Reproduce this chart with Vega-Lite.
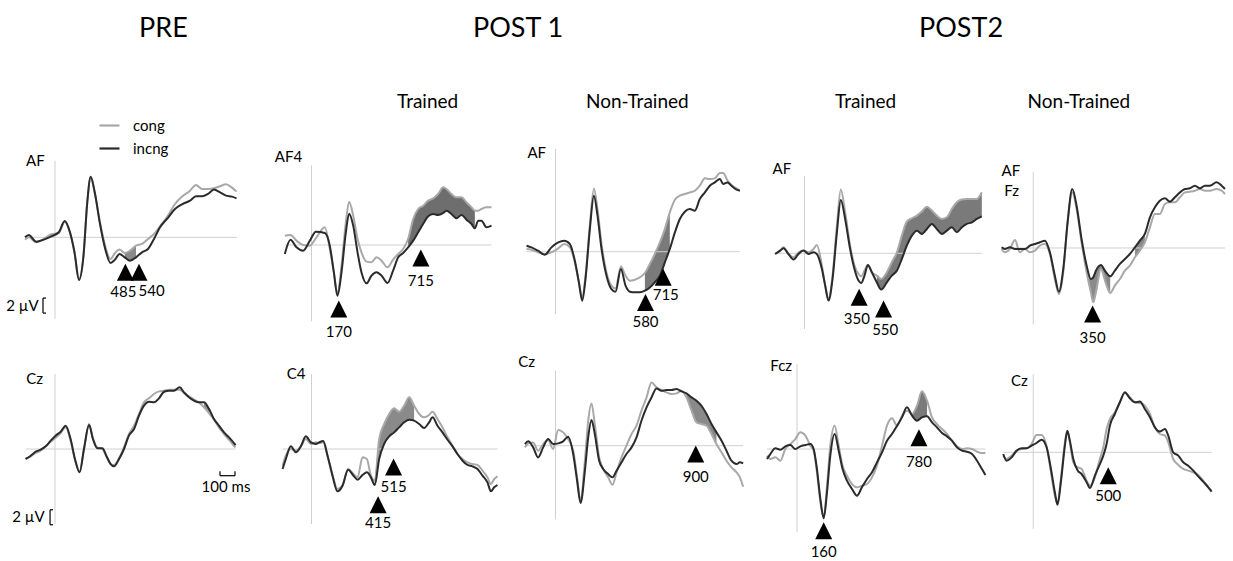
{
"$schema":"https://vega.github.io/schema/vega-lite/v6.json",
"autosize":{"type":"pad"},
"padding":{"left":4,"top":15,"right":5,"bottom":0},
"background":"white",
"config":{"view":{"stroke":null},"font":"Lato","title":{"font":"Lato","fontWeight":"normal","color":"#000"},"axis":{"labels":false,"domain":false,"grid":false,"ticks":true,"tickColor":"#cfcfcf","tickSize":3,"tickWidth":1,"minExtent":0,"maxExtent":0,"labelPadding":0},"text":{"font":"Lato","fontSize":15,"color":"#000"}},
"datasets":{
"w_pre1":[{"t":-200,"cong":-0.31,"incng":0},{"t":-175,"cong":0,"incng":0.31},{"t":-125,"cong":-0.67,"incng":-0.58},{"t":-75,"cong":-0.22,"incng":-0.31},{"t":-25,"cong":0.4,"incng":0.13},{"t":25,"cong":0.58,"incng":0.67},{"t":65,"cong":2.09,"incng":2.18},{"t":100,"cong":0.58,"incng":0.67},{"t":130,"cong":-2,"incng":-2},{"t":160,"cong":-5.56,"incng":-5.69},{"t":190,"cong":-2.44,"incng":-2.44},{"t":215,"cong":4.58,"incng":4.67},{"t":238,"cong":8,"incng":8.09},{"t":265,"cong":5.91,"incng":6},{"t":300,"cong":2,"incng":1.78},{"t":335,"cong":-1.2,"incng":-1.56},{"t":370,"cong":-2.89,"incng":-3.42},{"t":400,"cong":-2.09,"incng":-2.98},{"t":430,"cong":-1.64,"incng":-2.22},{"t":465,"cong":-2.09,"incng":-2.67,"s":1},{"t":500,"cong":-1.78,"incng":-3.11,"s":1},{"t":540,"cong":-1.11,"incng":-2.67,"s":1},{"t":580,"cong":-0.89,"incng":-2},{"t":620,"cong":-0.22,"incng":-1.56},{"t":660,"cong":0.44,"incng":-0.22},{"t":700,"cong":1.47,"incng":1.33},{"t":750,"cong":2.8,"incng":2.53},{"t":800,"cong":4.44,"incng":3.78},{"t":850,"cong":5.47,"incng":4.44},{"t":900,"cong":6.22,"incng":4.89},{"t":940,"cong":6.98,"incng":5.47},{"t":980,"cong":6.44,"incng":5.47},{"t":1020,"cong":6.44,"incng":5.78},{"t":1060,"cong":6.53,"incng":6.36},{"t":1100,"cong":6.8,"incng":6},{"t":1140,"cong":7.07,"incng":5.56},{"t":1180,"cong":6.62,"incng":5.42},{"t":1210,"cong":6.09,"incng":5.2}],
"w_p1t1":[{"t":-178,"cong":1.24,"incng":-1.2},{"t":-140,"cong":1.33,"incng":0.71},{"t":-100,"cong":0.58,"incng":-0.31},{"t":-56,"cong":0,"incng":-0.76},{"t":-11,"cong":-0.09,"incng":0.58},{"t":29,"cong":0.89,"incng":1.78},{"t":89,"cong":2.36,"incng":1.6},{"t":122,"cong":-0.53,"incng":-0.09},{"t":149,"cong":-3.64,"incng":-3.64},{"t":173,"cong":-6.53,"incng":-6.76},{"t":200,"cong":-2.76,"incng":-3.64},{"t":229,"cong":3.02,"incng":1.69},{"t":251,"cong":5.78,"incng":4.18},{"t":278,"cong":3.91,"incng":2.58},{"t":307,"cong":0.8,"incng":-0.98},{"t":333,"cong":-0.98,"incng":-3.64},{"t":367,"cong":-2.22,"incng":-5.11},{"t":400,"cong":-2.31,"incng":-4.09},{"t":433,"cong":-1.64,"incng":-3.64},{"t":467,"cong":-2.09,"incng":-4.09},{"t":507,"cong":-2.98,"incng":-5.07},{"t":544,"cong":-1.96,"incng":-3.42},{"t":578,"cong":-1.2,"incng":-1.64},{"t":611,"cong":-0.53,"incng":-1.07},{"t":644,"cong":0.8,"incng":-0.31,"s":1},{"t":678,"cong":3.47,"incng":0.58,"s":1},{"t":711,"cong":4.8,"incng":1.69,"s":1},{"t":744,"cong":5.24,"incng":2.8,"s":1},{"t":778,"cong":5.91,"incng":3.82,"s":1},{"t":811,"cong":6.22,"incng":4.13,"s":1},{"t":844,"cong":6.8,"incng":4,"s":1},{"t":878,"cong":7.69,"incng":4.27,"s":1},{"t":900,"cong":7.47,"incng":4.58,"s":1},{"t":933,"cong":6.8,"incng":4.13,"s":1},{"t":967,"cong":6.36,"incng":3.56,"s":1},{"t":1000,"cong":6.36,"incng":4,"s":1},{"t":1033,"cong":5.69,"incng":3.38,"s":1},{"t":1067,"cong":5.02,"incng":2.8,"s":1},{"t":1089,"cong":4.58,"incng":2.22,"s":1},{"t":1111,"cong":4.58,"incng":3.24},{"t":1133,"cong":4.8,"incng":3.24},{"t":1167,"cong":5.02,"incng":2.36},{"t":1200,"cong":5.02,"incng":2.58}],
"w_p1n1":[{"t":-193,"cong":0.36,"incng":0.8},{"t":-160,"cong":0.27,"incng":0.58},{"t":-116,"cong":-0.09,"incng":0.13},{"t":-71,"cong":-0.31,"incng":-0.4},{"t":-27,"cong":-0.09,"incng":0.58},{"t":18,"cong":0.44,"incng":1.24},{"t":58,"cong":1.02,"incng":1.47},{"t":96,"cong":0.58,"incng":1.02},{"t":129,"cong":-1.42,"incng":-1.2},{"t":156,"cong":-4.09,"incng":-4.09},{"t":178,"cong":-6.09,"incng":-6.53},{"t":200,"cong":-3.2,"incng":-3.64},{"t":229,"cong":3.47,"incng":3.02},{"t":256,"cong":8.44,"incng":7.47},{"t":280,"cong":5.69,"incng":4.8},{"t":307,"cong":1.02,"incng":0.36},{"t":340,"cong":-2.76,"incng":-3.2},{"t":373,"cong":-4.53,"incng":-4.98},{"t":400,"cong":-4.89,"incng":-5.33},{"t":436,"cong":-1.96,"incng":-2.31},{"t":467,"cong":-3.2,"incng":-4.53},{"t":496,"cong":-3.87,"incng":-5.33},{"t":529,"cong":-3.73,"incng":-5.42},{"t":562,"cong":-3.42,"incng":-5.42},{"t":596,"cong":-2.84,"incng":-5.2,"s":1},{"t":629,"cong":-1.64,"incng":-4.76,"s":1},{"t":662,"cong":-0.31,"incng":-4.09,"s":1},{"t":696,"cong":1.24,"incng":-3.2,"s":1},{"t":729,"cong":3.02,"incng":-1.42,"s":1},{"t":762,"cong":5.24,"incng":0.36,"s":1},{"t":796,"cong":6.93,"incng":2.58},{"t":829,"cong":7.47,"incng":4.36},{"t":862,"cong":7.69,"incng":5.33},{"t":896,"cong":7.91,"incng":5.69},{"t":929,"cong":8.13,"incng":5.47},{"t":962,"cong":8.8,"incng":7.02},{"t":996,"cong":9.78,"incng":7.91},{"t":1029,"cong":9.69,"incng":8.8},{"t":1062,"cong":9.78,"incng":9.24},{"t":1096,"cong":10.49,"incng":9.69},{"t":1118,"cong":10.49,"incng":9.02},{"t":1147,"cong":9.47,"incng":9.24},{"t":1173,"cong":8.89,"incng":8.8},{"t":1207,"cong":8.44,"incng":8.27},{"t":1229,"cong":8.13,"incng":8.13}],
"w_p2t1":[{"t":-196,"cong":-0.09,"incng":-0.09},{"t":-162,"cong":0.36,"incng":0.36},{"t":-140,"cong":0.8,"incng":0.67},{"t":-107,"cong":-0.09,"incng":-0.09},{"t":-73,"cong":-0.53,"incng":-0.84},{"t":-40,"cong":0.13,"incng":-0.09},{"t":-7,"cong":0.36,"incng":0.36},{"t":27,"cong":0.13,"incng":-0.09},{"t":60,"cong":0.58,"incng":0.13},{"t":82,"cong":1.11,"incng":-0.09},{"t":116,"cong":-1.64,"incng":-2.09},{"t":138,"cong":-4.31,"incng":-4.31},{"t":160,"cong":-6.09,"incng":-6.31},{"t":187,"cong":-2.98,"incng":-3.42},{"t":216,"cong":3.69,"incng":2.8},{"t":242,"cong":8.49,"incng":7.11},{"t":271,"cong":5.47,"incng":4.58},{"t":304,"cong":1.02,"incng":0.58},{"t":333,"cong":-1.64,"incng":-2.09},{"t":360,"cong":-2.76,"incng":-3.64},{"t":378,"cong":-3.07,"incng":-3.96},{"t":400,"cong":-2.31,"incng":-2.98},{"t":422,"cong":-1.56,"incng":-1.56},{"t":449,"cong":-2.53,"incng":-2.53},{"t":482,"cong":-2.98,"incng":-3.87,"s":1},{"t":511,"cong":-3.42,"incng":-4.84,"s":1},{"t":549,"cong":-2.53,"incng":-3.87,"s":1},{"t":582,"cong":-1.2,"incng":-2.98,"s":1},{"t":616,"cong":0.13,"incng":-2.31,"s":1},{"t":649,"cong":2.36,"incng":-0.76,"s":1},{"t":682,"cong":4.22,"incng":1.02,"s":1},{"t":716,"cong":4.67,"incng":2.36,"s":1},{"t":749,"cong":5.02,"incng":3.02,"s":1},{"t":782,"cong":5.56,"incng":2.58,"s":1},{"t":816,"cong":6.22,"incng":3.24,"s":1},{"t":849,"cong":5.69,"incng":3.91,"s":1},{"t":882,"cong":5.02,"incng":3.24,"s":1},{"t":916,"cong":4.58,"incng":2.58,"s":1},{"t":949,"cong":4.8,"incng":3.02,"s":1},{"t":982,"cong":5.91,"incng":3.47,"s":1},{"t":1016,"cong":6.8,"incng":2.8,"s":1},{"t":1049,"cong":7.16,"incng":3.47,"s":1},{"t":1082,"cong":7.24,"incng":3.91,"s":1},{"t":1116,"cong":7.24,"incng":4.13,"s":1},{"t":1149,"cong":7.24,"incng":4.58,"s":1},{"t":1182,"cong":8.13,"incng":4.93,"s":1}],
"w_p2n1":[{"t":-211,"cong":-0.13,"incng":0.09},{"t":-189,"cong":-0.58,"incng":-0.13},{"t":-156,"cong":-0.13,"incng":0.09},{"t":-122,"cong":1.07,"incng":-0.13},{"t":-89,"cong":-0.58,"incng":-0.13},{"t":-56,"cong":-0.13,"incng":-0.13},{"t":-22,"cong":-0.58,"incng":0.31},{"t":11,"cong":-0.36,"incng":0.53},{"t":44,"cong":0.31,"incng":0.76},{"t":78,"cong":0.53,"incng":0.98},{"t":111,"cong":-0.8,"incng":-0.58},{"t":144,"cong":-4.13,"incng":-3.69},{"t":171,"cong":-6.13,"incng":-5.82},{"t":200,"cong":-3.24,"incng":-2.8},{"t":229,"cong":3.42,"incng":3.42},{"t":260,"cong":7.42,"incng":7.87},{"t":289,"cong":5.2,"incng":5.64},{"t":322,"cong":0.76,"incng":1.2},{"t":356,"cong":-3.24,"incng":-2.36,"s":1},{"t":384,"cong":-5.91,"incng":-4.13,"s":1},{"t":400,"cong":-7.24,"incng":-3.91,"s":1},{"t":418,"cong":-5.91,"incng":-3.02,"s":1},{"t":451,"cong":-2.8,"incng":-2.27,"s":1},{"t":482,"cong":-4.58,"incng":-3.16,"s":1},{"t":513,"cong":-6,"incng":-3.78,"s":1},{"t":544,"cong":-5.02,"incng":-3.02},{"t":578,"cong":-4.13,"incng":-2.13},{"t":611,"cong":-3.02,"incng":-1.47},{"t":644,"cong":-2.36,"incng":-0.8},{"t":678,"cong":-1.24,"incng":0.09,"s":2},{"t":711,"cong":-0.36,"incng":0.98,"s":2},{"t":744,"cong":0.76,"incng":1.87,"s":2},{"t":778,"cong":2.76,"incng":4.09},{"t":811,"cong":4.53,"incng":5.42},{"t":844,"cong":4.53,"incng":6.31},{"t":878,"cong":5.87,"incng":6.62},{"t":911,"cong":6.09,"incng":6.18},{"t":944,"cong":6.09,"incng":6.76},{"t":978,"cong":6.76,"incng":7.42},{"t":1011,"cong":7.42,"incng":7.87},{"t":1044,"cong":7.51,"incng":7.96},{"t":1078,"cong":7.64,"incng":8.31},{"t":1111,"cong":7.87,"incng":7.96},{"t":1144,"cong":7.64,"incng":8.31},{"t":1178,"cong":7.64,"incng":8.31},{"t":1222,"cong":7.87,"incng":8.76},{"t":1256,"cong":7.64,"incng":8.31},{"t":1278,"cong":7.2,"incng":7.87}],
"w_pre2":[{"t":-196,"cong":-1.33,"incng":-1.33},{"t":-162,"cong":-0.98,"incng":-0.89},{"t":-129,"cong":-0.53,"incng":-0.36},{"t":-96,"cong":-0.22,"incng":-0.09},{"t":-62,"cong":0.36,"incng":0.36},{"t":-29,"cong":0.98,"incng":1.11},{"t":4,"cong":1.51,"incng":1.78},{"t":38,"cong":2.13,"incng":2.31},{"t":71,"cong":2.89,"incng":3.11},{"t":104,"cong":1.11,"incng":1.33},{"t":133,"cong":-1.42,"incng":-1.33},{"t":164,"cong":-3.02,"incng":-3.11},{"t":193,"cong":-0.09,"incng":0},{"t":227,"cong":3.33,"incng":3.2},{"t":253,"cong":1.42,"incng":1.33},{"t":282,"cong":0.22,"incng":0.09},{"t":316,"cong":0,"incng":0.09},{"t":342,"cong":-0.98,"incng":-0.89},{"t":371,"cong":-2,"incng":-2},{"t":393,"cong":-2.13,"incng":-2.31},{"t":427,"cong":-1.24,"incng":-1.33},{"t":460,"cong":0.22,"incng":0},{"t":493,"cong":2,"incng":1.78},{"t":527,"cong":3.11,"incng":2.67},{"t":560,"cong":4.67,"incng":4.44},{"t":593,"cong":6.22,"incng":5.78},{"t":627,"cong":6.76,"incng":6.31},{"t":660,"cong":7.33,"incng":6.22},{"t":693,"cong":7.69,"incng":6.76},{"t":727,"cong":7.78,"incng":7.64},{"t":760,"cong":7.91,"incng":7.78},{"t":793,"cong":7.91,"incng":7.78},{"t":831,"cong":7.91,"incng":8.22},{"t":860,"cong":7.47,"incng":7.56},{"t":893,"cong":7.02,"incng":6.89},{"t":927,"cong":6.58,"incng":6.44},{"t":960,"cong":6.22,"incng":6.22},{"t":993,"cong":5.56,"incng":6.22,"s":1},{"t":1027,"cong":4.8,"incng":5.33,"s":1},{"t":1060,"cong":3.91,"incng":4},{"t":1093,"cong":2.89,"incng":3.11},{"t":1127,"cong":2,"incng":2.22},{"t":1160,"cong":1.24,"incng":1.56},{"t":1193,"cong":0.44,"incng":0.8},{"t":1204,"cong":0.22,"incng":0.53}],
"w_p1t2":[{"t":-193,"cong":-2.22,"incng":-2.67},{"t":-171,"cong":-0.89,"incng":-1.33},{"t":-138,"cong":0,"incng":0.36},{"t":-104,"cong":-0.22,"incng":-0.44},{"t":-71,"cong":0.36,"incng":0.36},{"t":-38,"cong":1.33,"incng":1.69},{"t":-4,"cong":0.67,"incng":0.89},{"t":29,"cong":0.89,"incng":0.67},{"t":51,"cong":0.8,"incng":0.89},{"t":78,"cong":0.89,"incng":1.07},{"t":107,"cong":-0.89,"incng":-0.89},{"t":140,"cong":-3.47,"incng":-3.56},{"t":173,"cong":-5.33,"incng":-5.64},{"t":207,"cong":-4.8,"incng":-4.89},{"t":244,"cong":-2.67,"incng":-2.76},{"t":280,"cong":-3.33,"incng":-3.56},{"t":307,"cong":-3.78,"incng":-4.09},{"t":340,"cong":-1.11,"incng":-3.47},{"t":369,"cong":-1.33,"incng":-3.11},{"t":396,"cong":-3.56,"incng":-3.78},{"t":422,"cong":-4.22,"incng":-4.8,"s":1},{"t":451,"cong":1.33,"incng":-1.33,"s":1},{"t":484,"cong":3.33,"incng":0.67,"s":1},{"t":518,"cong":4.67,"incng":1.69,"s":1},{"t":551,"cong":5.42,"incng":2.22,"s":1},{"t":584,"cong":4.98,"incng":2.89,"s":1},{"t":618,"cong":5.78,"incng":3.56,"s":1},{"t":651,"cong":6.89,"incng":3.91,"s":1},{"t":684,"cong":5.78,"incng":3.78,"s":1},{"t":718,"cong":4.67,"incng":3.33},{"t":751,"cong":4.22,"incng":2.8},{"t":784,"cong":4.53,"incng":3.56},{"t":807,"cong":4.98,"incng":4.22},{"t":840,"cong":4,"incng":3.11},{"t":873,"cong":2.89,"incng":2.22},{"t":907,"cong":1.56,"incng":1.24},{"t":940,"cong":0.44,"incng":0.36},{"t":973,"cong":-0.67,"incng":-0.67},{"t":1007,"cong":-1.33,"incng":-1.56},{"t":1040,"cong":-1.78,"incng":-2.13},{"t":1073,"cong":-2,"incng":-2.31},{"t":1107,"cong":-2.13,"incng":-2.67},{"t":1140,"cong":-2.89,"incng":-3.56},{"t":1173,"cong":-3.78,"incng":-4.44},{"t":1196,"cong":-4.67,"incng":-5.64},{"t":1218,"cong":-4,"incng":-5.11},{"t":1240,"cong":-3.64,"incng":-4.8}],
"w_p1n2":[{"t":-204,"cong":-0.22,"incng":0.22},{"t":-182,"cong":0.31,"incng":0.58},{"t":-149,"cong":0.44,"incng":-0.22},{"t":-116,"cong":-0.67,"incng":-1.56},{"t":-82,"cong":0.22,"incng":-0.22},{"t":-49,"cong":0.76,"incng":0.89},{"t":-16,"cong":-0.44,"incng":0.22},{"t":18,"cong":2.09,"incng":0.31},{"t":51,"cong":1.78,"incng":0.58},{"t":84,"cong":0.89,"incng":1.2},{"t":118,"cong":-0.67,"incng":-1.11},{"t":144,"cong":-4.22,"incng":-4.67},{"t":167,"cong":-7.33,"incng":-7.64},{"t":196,"cong":-2,"incng":-3.33},{"t":218,"cong":3.33,"incng":1.11},{"t":240,"cong":5.64,"incng":3.42},{"t":262,"cong":2.89,"incng":1.56},{"t":291,"cong":-1.56,"incng":-2},{"t":318,"cong":-3.11,"incng":-3.11},{"t":351,"cong":-4.22,"incng":-3.78},{"t":380,"cong":-5.2,"incng":-4.22},{"t":407,"cong":-3.56,"incng":-3.33},{"t":440,"cong":-1.56,"incng":-2.22},{"t":473,"cong":0,"incng":-1.11},{"t":507,"cong":1.56,"incng":-0.22},{"t":540,"cong":2.67,"incng":1.11},{"t":573,"cong":4.67,"incng":3.33},{"t":607,"cong":6.44,"incng":5.11},{"t":640,"cong":8.44,"incng":6.44},{"t":673,"cong":7.78,"incng":7.64},{"t":707,"cong":7.42,"incng":7.33},{"t":740,"cong":7.11,"incng":7.42},{"t":773,"cong":6.89,"incng":7.42},{"t":807,"cong":6.98,"incng":7.56},{"t":840,"cong":7.33,"incng":7.24},{"t":873,"cong":6.44,"incng":6.98,"s":1},{"t":907,"cong":4.67,"incng":6.44,"s":1},{"t":940,"cong":3.11,"incng":6,"s":1},{"t":973,"cong":2.89,"incng":5.33,"s":1},{"t":1007,"cong":2.67,"incng":4.22,"s":1},{"t":1040,"cong":1.56,"incng":2.89,"s":1},{"t":1073,"cong":0.22,"incng":1.78,"s":1},{"t":1107,"cong":-0.89,"incng":0.67},{"t":1140,"cong":-2,"incng":-0.67},{"t":1173,"cong":-2.89,"incng":-2},{"t":1207,"cong":-3.56,"incng":-2.44},{"t":1229,"cong":-4.22,"incng":-2.22},{"t":1251,"cong":-5.47,"incng":-2.36}],
"w_p2t2":[{"t":-200,"cong":-0.89,"incng":-1.33},{"t":-178,"cong":-1.33,"incng":-0.67},{"t":-144,"cong":-1.11,"incng":0.09},{"t":-111,"cong":-1.56,"incng":-0.09},{"t":-78,"cong":0,"incng":0.36},{"t":-44,"cong":0.67,"incng":0.53},{"t":-11,"cong":1.33,"incng":0},{"t":22,"cong":2.22,"incng":0.36},{"t":56,"cong":1.78,"incng":0.53},{"t":89,"cong":0.44,"incng":0.67},{"t":111,"cong":-0.22,"incng":0},{"t":133,"cong":-3.11,"incng":-2.67},{"t":156,"cong":-7.11,"incng":-6.67},{"t":178,"cong":-9.11,"incng":-9.24},{"t":200,"cong":-4.89,"incng":-5.78},{"t":222,"cong":0.44,"incng":-0.89},{"t":251,"cong":3.11,"incng":2},{"t":278,"cong":0.44,"incng":-0.22},{"t":304,"cong":-2.22,"incng":-2.67},{"t":333,"cong":-3.56,"incng":-4.22},{"t":367,"cong":-4.67,"incng":-5.33},{"t":400,"cong":-5.11,"incng":-6.22},{"t":433,"cong":-4.89,"incng":-5.11},{"t":467,"cong":-4.67,"incng":-4},{"t":500,"cong":-3.78,"incng":-3.11},{"t":533,"cong":-2.22,"incng":-1.78},{"t":567,"cong":0.44,"incng":-0.44},{"t":600,"cong":3.11,"incng":1.11},{"t":633,"cong":4.09,"incng":2},{"t":667,"cong":3.11,"incng":3.11},{"t":700,"cong":4.44,"incng":4.22},{"t":733,"cong":5.11,"incng":5.56},{"t":767,"cong":4.67,"incng":4.44,"s":1},{"t":800,"cong":5.78,"incng":3.78,"s":1},{"t":833,"cong":7.69,"incng":4.22,"s":1},{"t":867,"cong":6.44,"incng":4.36,"s":1},{"t":900,"cong":4.22,"incng":3.56},{"t":933,"cong":3.33,"incng":2.89},{"t":967,"cong":2.67,"incng":2.13},{"t":1000,"cong":2,"incng":1.69},{"t":1033,"cong":1.11,"incng":1.11},{"t":1067,"cong":0.36,"incng":0.22},{"t":1100,"cong":0,"incng":-0.22},{"t":1133,"cong":0.09,"incng":-0.36},{"t":1167,"cong":0,"incng":-0.67},{"t":1200,"cong":-0.36,"incng":-1.56},{"t":1233,"cong":-0.53,"incng":-2.67},{"t":1256,"cong":-0.53,"incng":-3.47}],
"w_p2n2":[{"t":-200,"cong":-0.44,"incng":-0.22},{"t":-178,"cong":-0.89,"incng":-1.11},{"t":-144,"cong":-0.44,"incng":-0.67},{"t":-111,"cong":0.22,"incng":0.22},{"t":-78,"cong":0.44,"incng":0.53},{"t":-44,"cong":0.53,"incng":0.53},{"t":-11,"cong":1.11,"incng":0.89},{"t":22,"cong":2.31,"incng":1.24},{"t":56,"cong":2.31,"incng":1.69},{"t":89,"cong":0.8,"incng":0.67},{"t":118,"cong":-2.67,"incng":-2.22},{"t":144,"cong":-5.78,"incng":-5.33},{"t":162,"cong":-6.89,"incng":-6.98},{"t":184,"cong":-3.56,"incng":-4},{"t":211,"cong":1.33,"incng":0.89},{"t":227,"cong":2.89,"incng":2.89},{"t":244,"cong":1.33,"incng":1.56},{"t":267,"cong":-1.33,"incng":-0.89},{"t":296,"cong":-2,"incng":-2.44},{"t":322,"cong":-2.22,"incng":-2.89},{"t":356,"cong":-3.78,"incng":-4},{"t":378,"cong":-4.44,"incng":-4.76},{"t":411,"cong":-3.33,"incng":-3.11},{"t":444,"cong":-0.89,"incng":-1.56},{"t":467,"cong":0.67,"incng":-0.44},{"t":489,"cong":3.11,"incng":1.11},{"t":511,"cong":4.44,"incng":3.56},{"t":544,"cong":5.33,"incng":5.11},{"t":578,"cong":6.76,"incng":6.67},{"t":611,"cong":7.91,"incng":8},{"t":644,"cong":7.33,"incng":7.2},{"t":678,"cong":6.67,"incng":6.67},{"t":711,"cong":6.58,"incng":6.76},{"t":744,"cong":6.22,"incng":5.78},{"t":778,"cong":5.11,"incng":4.67},{"t":811,"cong":3.33,"incng":3.33},{"t":844,"cong":2.44,"incng":2.76},{"t":878,"cong":2.22,"incng":3.11},{"t":900,"cong":1.33,"incng":2.22},{"t":933,"cong":-0.89,"incng":0},{"t":967,"cong":-1.69,"incng":-0.44},{"t":1000,"cong":-2.22,"incng":-1.33},{"t":1033,"cong":-2.44,"incng":-1.78},{"t":1067,"cong":-2.67,"incng":-2.44},{"t":1100,"cong":-3.02,"incng":-3.2},{"t":1133,"cong":-3.78,"incng":-3.91},{"t":1167,"cong":-4.67,"incng":-4.67},{"t":1189,"cong":-5.11,"incng":-5.24}],
"marks":[{"p":"pre1","t":469,"v":-4.67,"label":"485","lt":456,"lv":-7.24},{"p":"pre1","t":560,"v":-4.67,"label":"540","lt":644,"lv":-7.11},{"p":"p1t1","t":182,"v":-8.55,"label":"170","lt":182,"lv":-11.56},{"p":"p1t1","t":729,"v":-1.73,"label":"715","lt":729,"lv":-4.76},{"p":"p1n1","t":600,"v":-6.76,"label":"580","lt":600,"lv":-9.42},{"p":"p1n1","t":718,"v":-3.42,"label":"715","lt":735,"lv":-5.78},{"p":"p2t1","t":364,"v":-5.87,"label":"350","lt":349,"lv":-8.76},{"p":"p2t1","t":527,"v":-7.42,"label":"550","lt":538,"lv":-10.18},{"p":"p2n1","t":396,"v":-8.8,"label":"350","lt":396,"lv":-12},{"p":"p1t2","t":444,"v":-7.42,"label":"415","lt":444,"lv":-9.9},{"p":"p1t2","t":547,"v":-2.4,"label":"515","lt":547,"lv":-5.02},{"p":"p1n2","t":935,"v":-1.11,"label":"900","lt":935,"lv":-4.13},{"p":"p2t2","t":178,"v":-10.89,"label":"160","lt":178,"lv":-13.69},{"p":"p2t2","t":813,"v":1.51,"label":"780","lt":813,"lv":-1.69},{"p":"p2n2","t":500,"v":-3.11,"label":"500","lt":500,"lv":-5.87}],
"names":[{"p":"pre1","name":"AF","t":-193,"v":10.2},{"p":"p1t1","name":"AF4","t":-245,"v":11.7},{"p":"p1n1","name":"AF","t":-187,"v":13.2},{"p":"p2t1","name":"AF","t":-213,"v":11.2},{"p":"p2n1","name":"AF","t":-211,"v":10.3},{"p":"p2n1","name":"Fz","t":-193,"v":7.6},{"p":"pre2","name":"Cz","t":-191,"v":9.3},{"p":"p1t2","name":"C4","t":-165,"v":10},{"p":"p1n2","name":"Cz","t":-249,"v":11.1},{"p":"p2t2","name":"Fcz","t":-178,"v":11.1},{"p":"p2n2","name":"Cz","t":-149,"v":9.5}],
"bars":[{"p":"pre1","t1":-80,"t2":-80,"v1":-10.1,"v2":-8.1},{"p":"pre1","t1":-80,"t2":-60,"v1":-8.1,"v2":-8.1},{"p":"pre1","t1":-80,"t2":-60,"v1":-10.1,"v2":-10.1},{"p":"pre2","t1":-33,"t2":-33,"v1":-10.1,"v2":-8.1},{"p":"pre2","t1":-33,"t2":-13,"v1":-8.1,"v2":-8.1},{"p":"pre2","t1":-33,"t2":-13,"v1":-10.1,"v2":-10.1},{"p":"pre2","t1":1100,"t2":1200,"v1":-3.56,"v2":-3.56},{"p":"pre2","t1":1100,"t2":1100,"v1":-3.56,"v2":-2.98},{"p":"pre2","t1":1200,"t2":1200,"v1":-3.56,"v2":-2.98}],
"bartext":[{"p":"pre1","text":"2 µV","t":-217,"v":-9.1},{"p":"pre2","text":"2 µV","t":-177,"v":-9.1},{"p":"pre2","text":"100 ms","t":1140,"v":-5.0}]
},
"hconcat":[
{"title":{"text":"PRE","fontSize":27,"anchor":"start","dx":135,"offset":50},
 "spacing":2,"resolve":{"scale":{"color":"independent"},"legend":{"color":"independent"}},
 "vconcat":[
 {"width":255,"height":238,"title":{"text":" ","fontSize":19,"anchor":"start","offset":-1},"layer":[
  {"data":{"name":"w_pre1"},"transform":[{"filter":"datum.s > 0"}],"mark":{"type":"area","interpolate":"monotone","color":"#8a8a8a"},"encoding":{"x":{"field":"t","type":"quantitative","axis":null},"y":{"field":"cong","type":"quantitative","axis":null},"y2":{"field":"incng"},"detail":{"field":"s"}}},
  {"data":{"values":[{}]},"mark":{"type":"rule","color":"#d0d0d0"},"encoding":{"x":{"datum":-200,"axis":null},"x2":{"datum":1213},"y":{"datum":0,"axis":null}}},
  {"data":{"values":[{}]},"mark":{"type":"rule","color":"#d0d0d0"},"encoding":{"x":{"datum":0,"axis":null},"y":{"datum":-10.9,"axis":null},"y2":{"datum":10.2}}},
  {"data":{"name":"w_pre1"},"transform":[{"fold":["cong","incng"],"as":["cond","val"]}],"mark":{"type":"line","interpolate":"monotone","strokeWidth":2},"encoding":{"x":{"field":"t","type":"quantitative","title":null,"scale":{"domain":[-340,1360],"nice":false,"zero":false},"axis":{"orient":"bottom","offset":-111.7,"values":[100,200,300,400,500,600,700,800,900,1000,1100,1200]}},"y":{"field":"val","type":"quantitative","title":null,"scale":{"domain":[-14.89,16.84],"nice":false,"zero":false},"axis":{"orient":"left","offset":-51,"values":[-10,-7.5,-5,-2.5,2.5,5,7.5,10]}},"color":{"field":"cond","type":"nominal","scale":{"domain":["cong","incng"],"range":["#a8a8a8","#2b2b2b"]},"legend":{"orient":"none","legendX":94,"legendY":3,"title":null,"symbolType":"stroke","symbolSize":400,"symbolStrokeWidth":2.2,"labelFontSize":15,"labelFont":"Lato","labelColor":"#000","direction":"vertical","rowPadding":3,"labelOffset":12,"padding":0}}}},
  {"data":{"name":"bars"},"transform":[{"filter":"datum.p == 'pre1'"}],"mark":{"type":"rule","color":"#000","strokeWidth":1.2},"encoding":{"x":{"field":"t1","type":"quantitative","axis":null},"x2":{"field":"t2"},"y":{"field":"v1","type":"quantitative","axis":null},"y2":{"field":"v2"}}},
  {"data":{"name":"bartext"},"transform":[{"filter":"datum.p == 'pre1'"}],"mark":{"type":"text","baseline":"middle"},"encoding":{"x":{"field":"t","type":"quantitative","axis":null},"y":{"field":"v","type":"quantitative","axis":null},"text":{"field":"text"}}},
  {"data":{"name":"marks"},"transform":[{"filter":"datum.p == 'pre1'"}],"mark":{"type":"point","shape":"M0,-1L1,1L-1,1Z","filled":true,"color":"#000","size":289,"opacity":1},"encoding":{"x":{"field":"t","type":"quantitative","axis":null},"y":{"field":"v","type":"quantitative","axis":null}}},
  {"data":{"name":"marks"},"transform":[{"filter":"datum.p == 'pre1'"}],"mark":{"type":"text","baseline":"middle"},"encoding":{"x":{"field":"lt","type":"quantitative","axis":null},"y":{"field":"lv","type":"quantitative","axis":null},"text":{"field":"label"}}},
  {"data":{"name":"names"},"transform":[{"filter":"datum.p == 'pre1'"}],"mark":{"type":"text","align":"left","baseline":"middle"},"encoding":{"x":{"field":"t","type":"quantitative","axis":null},"y":{"field":"v","type":"quantitative","axis":null},"text":{"field":"name"}}}
 ]},
 {"width":255,"height":209,"layer":[
  {"data":{"name":"w_pre2"},"transform":[{"filter":"datum.s > 0"}],"mark":{"type":"area","interpolate":"monotone","color":"#8a8a8a"},"encoding":{"x":{"field":"t","type":"quantitative","axis":null},"y":{"field":"cong","type":"quantitative","axis":null},"y2":{"field":"incng"},"detail":{"field":"s"}}},
  {"data":{"values":[{}]},"mark":{"type":"rule","color":"#d0d0d0"},"encoding":{"x":{"datum":-196,"axis":null},"x2":{"datum":1204},"y":{"datum":0,"axis":null}}},
  {"data":{"values":[{}]},"mark":{"type":"rule","color":"#d0d0d0"},"encoding":{"x":{"datum":0,"axis":null},"y":{"datum":-10,"axis":null},"y2":{"datum":10}}},
  {"data":{"name":"w_pre2"},"transform":[{"fold":["cong","incng"],"as":["cond","val"]}],"mark":{"type":"line","interpolate":"monotone","strokeWidth":2},"encoding":{"x":{"field":"t","type":"quantitative","title":null,"scale":{"domain":[-340,1360],"nice":false,"zero":false},"axis":{"orient":"bottom","offset":-111,"values":[100,200,300,400,500,600,700,800,900,1000,1100,1200]}},"y":{"field":"val","type":"quantitative","title":null,"scale":{"domain":[-14.8,13.07],"nice":false,"zero":false},"axis":{"orient":"left","offset":-51,"values":[-10,-7.5,-5,-2.5,2.5,5,7.5,10]}},"color":{"field":"cond","type":"nominal","scale":{"domain":["cong","incng"],"range":["#a8a8a8","#2b2b2b"]},"legend":null}}},
  {"data":{"name":"bars"},"transform":[{"filter":"datum.p == 'pre2'"}],"mark":{"type":"rule","color":"#000","strokeWidth":1.2},"encoding":{"x":{"field":"t1","type":"quantitative","axis":null},"x2":{"field":"t2"},"y":{"field":"v1","type":"quantitative","axis":null},"y2":{"field":"v2"}}},
  {"data":{"name":"bartext"},"transform":[{"filter":"datum.p == 'pre2'"}],"mark":{"type":"text","baseline":"middle"},"encoding":{"x":{"field":"t","type":"quantitative","axis":null},"y":{"field":"v","type":"quantitative","axis":null},"text":{"field":"text"}}},
  {"data":{"name":"names"},"transform":[{"filter":"datum.p == 'pre2'"}],"mark":{"type":"text","align":"left","baseline":"middle"},"encoding":{"x":{"field":"t","type":"quantitative","axis":null},"y":{"field":"v","type":"quantitative","axis":null},"text":{"field":"name"}}}
 ]}
 ]},
{"title":{"text":"POST 1","fontSize":27,"anchor":"start","dx":199,"offset":50},
 "spacing":15,"resolve":{"scale":{"color":"independent"},"legend":{"color":"independent"}},
 "hconcat":[
 {"spacing":2,"resolve":{"scale":{"color":"independent"},"legend":{"color":"independent"}},"vconcat":[
  {"width":229,"height":238,"title":{"text":"Trained","fontSize":19,"anchor":"start","dx":123,"offset":-1},"layer":[
   {"data":{"name":"w_p1t1"},"transform":[{"filter":"datum.s > 0"}],"mark":{"type":"area","interpolate":"monotone","color":"#6e6e6e"},"encoding":{"x":{"field":"t","type":"quantitative","axis":null},"y":{"field":"cong","type":"quantitative","axis":null},"y2":{"field":"incng"},"detail":{"field":"s"}}},
   {"data":{"values":[{}]},"mark":{"type":"rule","color":"#d0d0d0"},"encoding":{"x":{"datum":-178,"axis":null},"x2":{"datum":1200},"y":{"datum":0,"axis":null}}},
   {"data":{"values":[{}]},"mark":{"type":"rule","color":"#d0d0d0"},"encoding":{"x":{"datum":0,"axis":null},"y":{"datum":-10.2,"axis":null},"y2":{"datum":10.6}}},
   {"data":{"name":"w_p1t1"},"transform":[{"fold":["cong","incng"],"as":["cond","val"]}],"mark":{"type":"line","interpolate":"monotone","strokeWidth":2},"encoding":{"x":{"field":"t","type":"quantitative","title":null,"scale":{"domain":[-250,1276.67],"nice":false,"zero":false},"axis":{"orient":"bottom","offset":-104,"values":[100,200,300,400,500,600,700,800,900,1000,1100,1200]}},"y":{"field":"val","type":"quantitative","title":null,"scale":{"domain":[-13.87,17.87],"nice":false,"zero":false},"axis":{"orient":"left","offset":-37.5,"values":[-10,-7.5,-5,-2.5,2.5,5,7.5,10]}},"color":{"field":"cond","type":"nominal","scale":{"domain":["cong","incng"],"range":["#a8a8a8","#2b2b2b"]},"legend":null}}},
   {"data":{"name":"marks"},"transform":[{"filter":"datum.p == 'p1t1'"}],"mark":{"type":"point","shape":"M0,-1L1,1L-1,1Z","filled":true,"color":"#000","size":289,"opacity":1},"encoding":{"x":{"field":"t","type":"quantitative","axis":null},"y":{"field":"v","type":"quantitative","axis":null}}},
   {"data":{"name":"marks"},"transform":[{"filter":"datum.p == 'p1t1'"}],"mark":{"type":"text","baseline":"middle"},"encoding":{"x":{"field":"lt","type":"quantitative","axis":null},"y":{"field":"lv","type":"quantitative","axis":null},"text":{"field":"label"}}},
   {"data":{"name":"names"},"transform":[{"filter":"datum.p == 'p1t1'"}],"mark":{"type":"text","align":"left","baseline":"middle"},"encoding":{"x":{"field":"t","type":"quantitative","axis":null},"y":{"field":"v","type":"quantitative","axis":null},"text":{"field":"name"}}}
  ]},
  {"width":229,"height":209,"layer":[
   {"data":{"name":"w_p1t2"},"transform":[{"filter":"datum.s > 0"}],"mark":{"type":"area","interpolate":"monotone","color":"#8a8a8a"},"encoding":{"x":{"field":"t","type":"quantitative","axis":null},"y":{"field":"cong","type":"quantitative","axis":null},"y2":{"field":"incng"},"detail":{"field":"s"}}},
   {"data":{"values":[{}]},"mark":{"type":"rule","color":"#d0d0d0"},"encoding":{"x":{"datum":-193,"axis":null},"x2":{"datum":1240},"y":{"datum":0,"axis":null}}},
   {"data":{"values":[{}]},"mark":{"type":"rule","color":"#d0d0d0"},"encoding":{"x":{"datum":0,"axis":null},"y":{"datum":-10,"axis":null},"y2":{"datum":10}}},
   {"data":{"name":"w_p1t2"},"transform":[{"fold":["cong","incng"],"as":["cond","val"]}],"mark":{"type":"line","interpolate":"monotone","strokeWidth":2},"encoding":{"x":{"field":"t","type":"quantitative","title":null,"scale":{"domain":[-250,1276.67],"nice":false,"zero":false},"axis":{"orient":"bottom","offset":-111,"values":[100,200,300,400,500,600,700,800,900,1000,1100,1200]}},"y":{"field":"val","type":"quantitative","title":null,"scale":{"domain":[-14.8,13.07],"nice":false,"zero":false},"axis":{"orient":"left","offset":-37.5,"values":[-10,-7.5,-5,-2.5,2.5,5,7.5,10]}},"color":{"field":"cond","type":"nominal","scale":{"domain":["cong","incng"],"range":["#a8a8a8","#2b2b2b"]},"legend":null}}},
   {"data":{"name":"marks"},"transform":[{"filter":"datum.p == 'p1t2'"}],"mark":{"type":"point","shape":"M0,-1L1,1L-1,1Z","filled":true,"color":"#000","size":289,"opacity":1},"encoding":{"x":{"field":"t","type":"quantitative","axis":null},"y":{"field":"v","type":"quantitative","axis":null}}},
   {"data":{"name":"marks"},"transform":[{"filter":"datum.p == 'p1t2'"}],"mark":{"type":"text","baseline":"middle"},"encoding":{"x":{"field":"lt","type":"quantitative","axis":null},"y":{"field":"lv","type":"quantitative","axis":null},"text":{"field":"label"}}},
   {"data":{"name":"names"},"transform":[{"filter":"datum.p == 'p1t2'"}],"mark":{"type":"text","align":"left","baseline":"middle"},"encoding":{"x":{"field":"t","type":"quantitative","axis":null},"y":{"field":"v","type":"quantitative","axis":null},"text":{"field":"name"}}}
  ]}
 ]},
 {"spacing":2,"resolve":{"scale":{"color":"independent"},"legend":{"color":"independent"}},"vconcat":[
  {"width":229,"height":238,"title":{"text":"Non-Trained","fontSize":19,"anchor":"start","dx":68,"offset":-1},"layer":[
   {"data":{"name":"w_p1n1"},"transform":[{"filter":"datum.s > 0"}],"mark":{"type":"area","interpolate":"monotone","color":"#7a7a7a"},"encoding":{"x":{"field":"t","type":"quantitative","axis":null},"y":{"field":"cong","type":"quantitative","axis":null},"y2":{"field":"incng"},"detail":{"field":"s"}}},
   {"data":{"values":[{}]},"mark":{"type":"rule","color":"#d0d0d0"},"encoding":{"x":{"datum":-193,"axis":null},"x2":{"datum":1229},"y":{"datum":0,"axis":null}}},
   {"data":{"values":[{}]},"mark":{"type":"rule","color":"#d0d0d0"},"encoding":{"x":{"datum":0,"axis":null},"y":{"datum":-8.3,"axis":null},"y2":{"datum":13.7}}},
   {"data":{"name":"w_p1n1"},"transform":[{"fold":["cong","incng"],"as":["cond","val"]}],"mark":{"type":"line","interpolate":"monotone","strokeWidth":2},"encoding":{"x":{"field":"t","type":"quantitative","title":null,"scale":{"domain":[-250,1276.67],"nice":false,"zero":false},"axis":{"orient":"bottom","offset":-97.3,"values":[100,200,300,400,500,600,700,800,900,1000,1100,1200]}},"y":{"field":"val","type":"quantitative","title":null,"scale":{"domain":[-12.97,18.76],"nice":false,"zero":false},"axis":{"orient":"left","offset":-37.5,"values":[-7.5,-5,-2.5,2.5,5,7.5,10,12.5]}},"color":{"field":"cond","type":"nominal","scale":{"domain":["cong","incng"],"range":["#a8a8a8","#2b2b2b"]},"legend":null}}},
   {"data":{"name":"marks"},"transform":[{"filter":"datum.p == 'p1n1'"}],"mark":{"type":"point","shape":"M0,-1L1,1L-1,1Z","filled":true,"color":"#000","size":289,"opacity":1},"encoding":{"x":{"field":"t","type":"quantitative","axis":null},"y":{"field":"v","type":"quantitative","axis":null}}},
   {"data":{"name":"marks"},"transform":[{"filter":"datum.p == 'p1n1'"}],"mark":{"type":"text","baseline":"middle"},"encoding":{"x":{"field":"lt","type":"quantitative","axis":null},"y":{"field":"lv","type":"quantitative","axis":null},"text":{"field":"label"}}},
   {"data":{"name":"names"},"transform":[{"filter":"datum.p == 'p1n1'"}],"mark":{"type":"text","align":"left","baseline":"middle"},"encoding":{"x":{"field":"t","type":"quantitative","axis":null},"y":{"field":"v","type":"quantitative","axis":null},"text":{"field":"name"}}}
  ]},
  {"width":229,"height":209,"layer":[
   {"data":{"name":"w_p1n2"},"transform":[{"filter":"datum.s > 0"}],"mark":{"type":"area","interpolate":"monotone","color":"#8a8a8a"},"encoding":{"x":{"field":"t","type":"quantitative","axis":null},"y":{"field":"cong","type":"quantitative","axis":null},"y2":{"field":"incng"},"detail":{"field":"s"}}},
   {"data":{"values":[{}]},"mark":{"type":"rule","color":"#d0d0d0"},"encoding":{"x":{"datum":-204,"axis":null},"x2":{"datum":1251},"y":{"datum":0,"axis":null}}},
   {"data":{"values":[{}]},"mark":{"type":"rule","color":"#d0d0d0"},"encoding":{"x":{"datum":0,"axis":null},"y":{"datum":-9.8,"axis":null},"y2":{"datum":10}}},
   {"data":{"name":"w_p1n2"},"transform":[{"fold":["cong","incng"],"as":["cond","val"]}],"mark":{"type":"line","interpolate":"monotone","strokeWidth":2},"encoding":{"x":{"field":"t","type":"quantitative","title":null,"scale":{"domain":[-250,1276.67],"nice":false,"zero":false},"axis":{"orient":"bottom","offset":-114.3,"values":[100,200,300,400,500,600,700,800,900,1000,1100,1200]}},"y":{"field":"val","type":"quantitative","title":null,"scale":{"domain":[-15.24,12.63],"nice":false,"zero":false},"axis":{"orient":"left","offset":-37.5,"values":[-7.5,-5,-2.5,2.5,5,7.5,10]}},"color":{"field":"cond","type":"nominal","scale":{"domain":["cong","incng"],"range":["#a8a8a8","#2b2b2b"]},"legend":null}}},
   {"data":{"name":"marks"},"transform":[{"filter":"datum.p == 'p1n2'"}],"mark":{"type":"point","shape":"M0,-1L1,1L-1,1Z","filled":true,"color":"#000","size":289,"opacity":1},"encoding":{"x":{"field":"t","type":"quantitative","axis":null},"y":{"field":"v","type":"quantitative","axis":null}}},
   {"data":{"name":"marks"},"transform":[{"filter":"datum.p == 'p1n2'"}],"mark":{"type":"text","baseline":"middle"},"encoding":{"x":{"field":"lt","type":"quantitative","axis":null},"y":{"field":"lv","type":"quantitative","axis":null},"text":{"field":"label"}}},
   {"data":{"name":"names"},"transform":[{"filter":"datum.p == 'p1n2'"}],"mark":{"type":"text","align":"left","baseline":"middle"},"encoding":{"x":{"field":"t","type":"quantitative","axis":null},"y":{"field":"v","type":"quantitative","axis":null},"text":{"field":"name"}}}
  ]}
 ]}
 ]},
{"title":{"text":"POST2","fontSize":27,"anchor":"start","dx":156,"offset":50},
 "spacing":7,"resolve":{"scale":{"color":"independent"},"legend":{"color":"independent"}},
 "hconcat":[
 {"spacing":2,"resolve":{"scale":{"color":"independent"},"legend":{"color":"independent"}},"vconcat":[
  {"width":219,"height":238,"title":{"text":"Trained","fontSize":19,"anchor":"start","dx":68,"offset":-1},"layer":[
   {"data":{"name":"w_p2t1"},"transform":[{"filter":"datum.s > 0"}],"mark":{"type":"area","interpolate":"monotone","color":"#7a7a7a"},"encoding":{"x":{"field":"t","type":"quantitative","axis":null},"y":{"field":"cong","type":"quantitative","axis":null},"y2":{"field":"incng"},"detail":{"field":"s"}}},
   {"data":{"values":[{}]},"mark":{"type":"rule","color":"#d0d0d0"},"encoding":{"x":{"datum":-196,"axis":null},"x2":{"datum":1182},"y":{"datum":0,"axis":null}}},
   {"data":{"values":[{}]},"mark":{"type":"rule","color":"#d0d0d0"},"encoding":{"x":{"datum":0,"axis":null},"y":{"datum":-10.1,"axis":null},"y2":{"datum":10.3}}},
   {"data":{"name":"w_p2t1"},"transform":[{"fold":["cong","incng"],"as":["cond","val"]}],"mark":{"type":"line","interpolate":"monotone","strokeWidth":2},"encoding":{"x":{"field":"t","type":"quantitative","title":null,"scale":{"domain":[-250,1210],"nice":false,"zero":false},"axis":{"orient":"bottom","offset":-95.7,"values":[100,200,300,400,500,600,700,800,900,1000,1100]}},"y":{"field":"val","type":"quantitative","title":null,"scale":{"domain":[-12.76,18.97],"nice":false,"zero":false},"axis":{"orient":"left","offset":-37.5,"values":[-10,-7.5,-5,-2.5,2.5,5,7.5,10]}},"color":{"field":"cond","type":"nominal","scale":{"domain":["cong","incng"],"range":["#a8a8a8","#2b2b2b"]},"legend":null}}},
   {"data":{"name":"marks"},"transform":[{"filter":"datum.p == 'p2t1'"}],"mark":{"type":"point","shape":"M0,-1L1,1L-1,1Z","filled":true,"color":"#000","size":289,"opacity":1},"encoding":{"x":{"field":"t","type":"quantitative","axis":null},"y":{"field":"v","type":"quantitative","axis":null}}},
   {"data":{"name":"marks"},"transform":[{"filter":"datum.p == 'p2t1'"}],"mark":{"type":"text","baseline":"middle"},"encoding":{"x":{"field":"lt","type":"quantitative","axis":null},"y":{"field":"lv","type":"quantitative","axis":null},"text":{"field":"label"}}},
   {"data":{"name":"names"},"transform":[{"filter":"datum.p == 'p2t1'"}],"mark":{"type":"text","align":"left","baseline":"middle"},"encoding":{"x":{"field":"t","type":"quantitative","axis":null},"y":{"field":"v","type":"quantitative","axis":null},"text":{"field":"name"}}}
  ]},
  {"width":219,"height":209,"layer":[
   {"data":{"name":"w_p2t2"},"transform":[{"filter":"datum.s > 0"}],"mark":{"type":"area","interpolate":"monotone","color":"#7a7a7a"},"encoding":{"x":{"field":"t","type":"quantitative","axis":null},"y":{"field":"cong","type":"quantitative","axis":null},"y2":{"field":"incng"},"detail":{"field":"s"}}},
   {"data":{"values":[{}]},"mark":{"type":"rule","color":"#d0d0d0"},"encoding":{"x":{"datum":-200,"axis":null},"x2":{"datum":1256},"y":{"datum":0,"axis":null}}},
   {"data":{"values":[{}]},"mark":{"type":"rule","color":"#d0d0d0"},"encoding":{"x":{"datum":0,"axis":null},"y":{"datum":-11.1,"axis":null},"y2":{"datum":11.3}}},
   {"data":{"name":"w_p2t2"},"transform":[{"fold":["cong","incng"],"as":["cond","val"]}],"mark":{"type":"line","interpolate":"monotone","strokeWidth":2},"encoding":{"x":{"field":"t","type":"quantitative","title":null,"scale":{"domain":[-200,1260],"nice":false,"zero":false},"axis":{"orient":"bottom","offset":-111,"values":[100,200,300,400,500,600,700,800,900,1000,1100,1200]}},"y":{"field":"val","type":"quantitative","title":null,"scale":{"domain":[-14.8,13.07],"nice":false,"zero":false},"axis":{"orient":"left","offset":-30,"values":[-10,-7.5,-5,-2.5,2.5,5,7.5,10]}},"color":{"field":"cond","type":"nominal","scale":{"domain":["cong","incng"],"range":["#a8a8a8","#2b2b2b"]},"legend":null}}},
   {"data":{"name":"marks"},"transform":[{"filter":"datum.p == 'p2t2'"}],"mark":{"type":"point","shape":"M0,-1L1,1L-1,1Z","filled":true,"color":"#000","size":289,"opacity":1},"encoding":{"x":{"field":"t","type":"quantitative","axis":null},"y":{"field":"v","type":"quantitative","axis":null}}},
   {"data":{"name":"marks"},"transform":[{"filter":"datum.p == 'p2t2'"}],"mark":{"type":"text","baseline":"middle"},"encoding":{"x":{"field":"lt","type":"quantitative","axis":null},"y":{"field":"lv","type":"quantitative","axis":null},"text":{"field":"label"}}},
   {"data":{"name":"names"},"transform":[{"filter":"datum.p == 'p2t2'"}],"mark":{"type":"text","align":"left","baseline":"middle"},"encoding":{"x":{"field":"t","type":"quantitative","axis":null},"y":{"field":"v","type":"quantitative","axis":null},"text":{"field":"name"}}}
  ]}
 ]},
 {"spacing":2,"resolve":{"scale":{"color":"independent"},"legend":{"color":"independent"}},"vconcat":[
  {"width":226,"height":238,"title":{"text":"Non-Trained","fontSize":19,"anchor":"start","dx":30,"offset":-1},"layer":[
   {"data":{"name":"w_p2n1"},"transform":[{"filter":"datum.s > 0"}],"mark":{"type":"area","interpolate":"monotone","color":"#8a8a8a"},"encoding":{"x":{"field":"t","type":"quantitative","axis":null},"y":{"field":"cong","type":"quantitative","axis":null},"y2":{"field":"incng"},"detail":{"field":"s"}}},
   {"data":{"values":[{}]},"mark":{"type":"rule","color":"#d0d0d0"},"encoding":{"x":{"datum":-211,"axis":null},"x2":{"datum":1278},"y":{"datum":0,"axis":null}}},
   {"data":{"values":[{}]},"mark":{"type":"rule","color":"#d0d0d0"},"encoding":{"x":{"datum":0,"axis":null},"y":{"datum":-10.2,"axis":null},"y2":{"datum":10.1}}},
   {"data":{"name":"w_p2n1"},"transform":[{"fold":["cong","incng"],"as":["cond","val"]}],"mark":{"type":"line","interpolate":"monotone","strokeWidth":2},"encoding":{"x":{"field":"t","type":"quantitative","title":null,"scale":{"domain":[-215,1291.67],"nice":false,"zero":false},"axis":{"orient":"bottom","offset":-101,"values":[100,200,300,400,500,600,700,800,900,1000,1100,1200]}},"y":{"field":"val","type":"quantitative","title":null,"scale":{"domain":[-13.47,18.27],"nice":false,"zero":false},"axis":{"orient":"left","offset":-32.25,"values":[-10,-7.5,-5,-2.5,2.5,5,7.5,10]}},"color":{"field":"cond","type":"nominal","scale":{"domain":["cong","incng"],"range":["#a8a8a8","#2b2b2b"]},"legend":null}}},
   {"data":{"name":"marks"},"transform":[{"filter":"datum.p == 'p2n1'"}],"mark":{"type":"point","shape":"M0,-1L1,1L-1,1Z","filled":true,"color":"#000","size":289,"opacity":1},"encoding":{"x":{"field":"t","type":"quantitative","axis":null},"y":{"field":"v","type":"quantitative","axis":null}}},
   {"data":{"name":"marks"},"transform":[{"filter":"datum.p == 'p2n1'"}],"mark":{"type":"text","baseline":"middle"},"encoding":{"x":{"field":"lt","type":"quantitative","axis":null},"y":{"field":"lv","type":"quantitative","axis":null},"text":{"field":"label"}}},
   {"data":{"name":"names"},"transform":[{"filter":"datum.p == 'p2n1'"}],"mark":{"type":"text","align":"left","baseline":"middle"},"encoding":{"x":{"field":"t","type":"quantitative","axis":null},"y":{"field":"v","type":"quantitative","axis":null},"text":{"field":"name"}}}
  ]},
  {"width":226,"height":209,"layer":[
   {"data":{"values":[{}]},"mark":{"type":"rule","color":"#d0d0d0"},"encoding":{"x":{"datum":-200,"axis":null},"x2":{"datum":1189},"y":{"datum":0,"axis":null}}},
   {"data":{"values":[{}]},"mark":{"type":"rule","color":"#d0d0d0"},"encoding":{"x":{"datum":0,"axis":null},"y":{"datum":-10.2,"axis":null},"y2":{"datum":10.4}}},
   {"data":{"name":"w_p2n2"},"transform":[{"fold":["cong","incng"],"as":["cond","val"]}],"mark":{"type":"line","interpolate":"monotone","strokeWidth":2},"encoding":{"x":{"field":"t","type":"quantitative","title":null,"scale":{"domain":[-215,1291.67],"nice":false,"zero":false},"axis":{"orient":"bottom","offset":-107.7,"values":[100,200,300,400,500,600,700,800,900,1000,1100]}},"y":{"field":"val","type":"quantitative","title":null,"scale":{"domain":[-14.36,13.51],"nice":false,"zero":false},"axis":{"orient":"left","offset":-32.25,"values":[-10,-7.5,-5,-2.5,2.5,5,7.5,10]}},"color":{"field":"cond","type":"nominal","scale":{"domain":["cong","incng"],"range":["#a8a8a8","#2b2b2b"]},"legend":null}}},
   {"data":{"name":"marks"},"transform":[{"filter":"datum.p == 'p2n2'"}],"mark":{"type":"point","shape":"M0,-1L1,1L-1,1Z","filled":true,"color":"#000","size":289,"opacity":1},"encoding":{"x":{"field":"t","type":"quantitative","axis":null},"y":{"field":"v","type":"quantitative","axis":null}}},
   {"data":{"name":"marks"},"transform":[{"filter":"datum.p == 'p2n2'"}],"mark":{"type":"text","baseline":"middle"},"encoding":{"x":{"field":"lt","type":"quantitative","axis":null},"y":{"field":"lv","type":"quantitative","axis":null},"text":{"field":"label"}}},
   {"data":{"name":"names"},"transform":[{"filter":"datum.p == 'p2n2'"}],"mark":{"type":"text","align":"left","baseline":"middle"},"encoding":{"x":{"field":"t","type":"quantitative","axis":null},"y":{"field":"v","type":"quantitative","axis":null},"text":{"field":"name"}}}
  ]}
 ]}
 ]}
],
"spacing":15,
"resolve":{"scale":{"color":"independent"},"legend":{"color":"independent"}}
}
